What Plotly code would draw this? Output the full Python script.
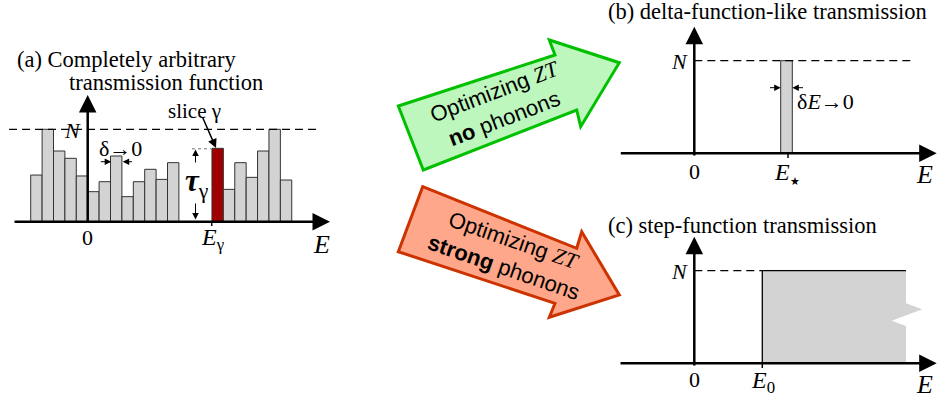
import plotly.graph_objects as go

W, H = 938, 403

# ---------------- data ----------------
# panel (a): slices (width delta = 1 energy unit) of an arbitrary transmission function
slice_left_E = [-5, -4, -3, -2, -1, 0, 1, 2, 3, 4, 5, 6, 7]
slice_left_T = [0.505, 1.0, 0.765, 0.686, 0.495, 0.325, 0.433, 0.711, 0.271, 0.433, 0.567, 0.458, 0.639]
slice_right_E = [10.9, 11.9, 12.9, 13.9, 14.9, 15.9, 16.9]
slice_right_T = [0.794, 0.350, 0.639, 0.480, 0.765, 1.0, 0.451]
gamma_index = 0          # first slice on the right is "slice gamma"
N_max = 1.0
# panel (b): delta-function-like transmission
E_star = 1.0
dE = 0.126
# panel (c): step-function transmission
E_0 = 1.0
E_end = 3.113

SERIF = "Liberation Serif"
SANS = "Liberation Sans"
GRAY = "#d3d3d3"

# pixel geometry of each panel: (origin x px, px per unit E, baseline y px, px per unit T)
GEO = {
    "a": (87.7, 11.4, 221.7, 92.4),
    "b": (694.3, 92.2, 153.3, 92.6),
    "c": (694.3, 68.0, 363.3, 92.6),
}


def ranges(key):
    x0, sx, y0, sy = GEO[key]
    return [(0 - x0) / sx, (W - x0) / sx], [(y0 - H) / sy, y0 / sy]


def px(x):
    return x / W


def py(y):
    return 1 - y / H


fig = go.Figure()

# ---- panel (a) bars ----
centers = [e + 0.5 for e in slice_left_E] + [e + 0.5 for e in slice_right_E]
heights = slice_left_T + slice_right_T
colors = [GRAY] * len(slice_left_T) + [
    "#a00000" if i == gamma_index else GRAY for i in range(len(slice_right_T))
]
fig.add_trace(go.Bar(x=centers, y=heights, width=1, marker=dict(color=colors, line=dict(color="#333333", width=1)),
                     xaxis="x", yaxis="y", hoverinfo="skip"))
fig.add_trace(go.Scatter(x=[-6.9, 20.2], y=[N_max, N_max], mode="lines",
                         line=dict(color="black", width=1.2, dash="8px,5px"), xaxis="x", yaxis="y"))

# ---- panel (b) ----
fig.add_trace(go.Scatter(x=[0, 2.394], y=[N_max, N_max], mode="lines",
                         line=dict(color="black", width=1.2, dash="8px,5px"), xaxis="x2", yaxis="y2"))
fig.add_trace(go.Bar(x=[E_star], y=[N_max], width=dE, marker=dict(color=GRAY, line=dict(color="#333333", width=1)),
                     xaxis="x2", yaxis="y2", hoverinfo="skip"))

# ---- panel (c) ----
nx = [E_end, E_end + 0.24, E_end - 0.21, E_end]
ny = [0.648 * N_max, 0.583 * N_max, 0.46 * N_max, 0.403 * N_max]
fig.add_trace(go.Scatter(x=[E_0, E_0, E_end, E_end] + nx[1:] + [E_end, E_0],
                         y=[0, N_max, N_max, ny[0]] + ny[1:] + [0, 0],
                         fill="toself", fillcolor=GRAY, mode="lines", line=dict(width=0, color=GRAY),
                         xaxis="x3", yaxis="y3"))
fig.add_trace(go.Scatter(x=[E_end, E_0, E_0], y=[N_max, N_max, 0], mode="lines",
                         line=dict(color="black", width=1.3), xaxis="x3", yaxis="y3"))
fig.add_trace(go.Scatter(x=[0, E_0], y=[N_max, N_max], mode="lines",
                         line=dict(color="black", width=1.2, dash="8px,5px"), xaxis="x3", yaxis="y3"))

# ---- axes (hidden, overlaying, full figure) ----
xa, ya = ranges("a")
xb, yb = ranges("b")
xc, yc = ranges("c")
hid = dict(visible=False, fixedrange=True, domain=[0, 1])
fig.update_layout(
    xaxis=dict(range=xa, anchor="y", **hid),
    yaxis=dict(range=ya, anchor="x", **hid),
    xaxis2=dict(range=xb, anchor="y2", overlaying="x", **hid),
    yaxis2=dict(range=yb, anchor="x2", overlaying="y", **hid),
    xaxis3=dict(range=xc, anchor="y3", overlaying="x", **hid),
    yaxis3=dict(range=yc, anchor="x3", overlaying="y", **hid),
)

annotations = []
shapes = []


def text(t, x, y, size=22, family=SERIF, xanchor="center", yanchor="middle", angle=0, bg=None, align="center"):
    d = dict(text=t, x=px(x), y=py(y), xref="paper", yref="paper", showarrow=False,
             font=dict(family=family, size=size, color="black"), xanchor=xanchor, yanchor=yanchor,
             textangle=angle, align=align)
    if bg:
        d["bgcolor"] = bg
        d["borderpad"] = 0
    annotations.append(d)


def arrow(hx, hy, tx, ty, width=2.5, size=1.4, head=2, side="end"):
    annotations.append(dict(x=px(hx), y=py(hy), xref="paper", yref="paper", ax=tx - hx, ay=ty - hy,
                            axref="pixel", ayref="pixel", showarrow=True, arrowhead=head, startarrowhead=head,
                            arrowsize=size, startarrowsize=size, arrowwidth=width, arrowcolor="black",
                            arrowside=side, text="", standoff=0, startstandoff=0))


def line(x0, y0, x1, y1, color="black", width=1.5, dash=None):
    shapes.append(dict(type="line", xref="paper", yref="paper", x0=px(x0), y0=py(y0), x1=px(x1), y1=py(y1),
                       line=dict(color=color, width=width, dash=dash)))


# big arrows
def poly(points, fill, edge):
    path = "M " + " L ".join(f"{px(a):.5f},{py(b):.5f}" for a, b in points) + " Z"
    shapes.append(dict(type="path", xref="paper", yref="paper", path=path, fillcolor=fill,
                       line=dict(color=edge, width=3), layer="below"))


poly([(398.3, 106), (555, 55), (549.3, 40), (619.3, 62.7), (580.7, 126.7), (576.7, 110), (423.3, 170)],
     "#bdf7bd", "#00c000")
poly([(422.7, 186.7), (576.7, 248.3), (581.7, 231.7), (619.3, 295), (549.3, 317.3), (555, 303.3), (398.3, 251.7)],
     "#ffa78a", "#cc3300")

ZT = '<i><span style="font-family:Liberation Serif">ZT</span></i>'
text(f"Optimizing {ZT}<br><b>no</b> phonons", 500, 105.5, size=22, family=SANS, angle=-21)
text(f"Optimizing {ZT}<br><b>strong</b> phonons", 508.3, 253.7, size=22, family=SANS, angle=19)

# ---- panel (a) decorations ----
arrow(330, 221.7, 13, 221.7)
arrow(87.7, 95, 87.7, 224)
line(211.7, 221.7, 211.7, 226, width=1.5)
line(192, 148.8, 211, 148.8, color="#777777", width=1, dash="dot")
arrow(195.5, 149.5, 195.5, 221, width=1, size=1.3, side="end+start")
arrow(216, 148, 202, 116, width=1.5, size=1.2)
arrow(111.2, 161.7, 99.3, 161.7, width=1, size=1.3)
arrow(122.7, 161.7, 133.5, 161.7, width=1, size=1.3)

text("(a) Completely arbitrary", 15, 59.5, size=22.5, xanchor="left")
text("transmission function", 166, 82.5, size=22.5)
text("<i>N</i>", 72.5, 130.5, size=22)
text("δ→0", 120.8, 148, size=22)
text("0", 87.7, 237.5, size=22)
text("<i>E</i><sub>γ</sub>", 213, 239, size=24)
text("<i>E</i>", 321, 245, size=26)
text("slice γ", 194, 111, size=21)
text("<b><i>τ</i></b><sub>γ</sub>", 197, 183, size=31, bg="white")

# ---- panel (b) decorations ----
arrow(936.7, 153.3, 619.3, 153.3)
arrow(694.3, 26.7, 694.3, 157)
line(788, 153.3, 788, 158, width=1.5)
arrow(780.7, 87.7, 768.5, 87.7, width=1, size=1.3)
arrow(792.3, 87.7, 804.5, 87.7, width=1, size=1.3)
text("(b) delta-function-like transmission", 606, 12, size=22.5, xanchor="left")
text("<i>N</i>", 679, 61.5, size=22)
text("0", 694.3, 171.5, size=22)
text('<i>E</i><sub><span style="font-size:11px">★</span></sub>', 787, 173, size=24)
text("<i>E</i>", 924, 174, size=26)
text("δ<i>E</i>→0", 795, 102, size=22, xanchor="left")

# ---- panel (c) decorations ----
arrow(936.7, 363.3, 619, 363.3)
arrow(694.3, 236.7, 694.3, 367)
line(762.3, 363.3, 762.3, 368, width=1.5)
text("(c) step-function transmission", 606, 225, size=22.5, xanchor="left")
text("<i>N</i>", 679, 271.5, size=22)
text("0", 694.3, 379, size=22)
text("<i>E</i><sub>0</sub>", 763, 382, size=24)
text("<i>E</i>", 924, 384, size=26)

fig.update_layout(
    width=W, height=H, margin=dict(l=0, r=0, t=0, b=0),
    paper_bgcolor="white", plot_bgcolor="white", showlegend=False,
    barmode="overlay", annotations=annotations, shapes=shapes,
)

fig.write_html("out.html", config={"displayModeBar": False, "staticPlot": True},
               post_script="document.body.style.margin='0';document.body.style.padding='0';document.body.style.overflow='hidden';")
